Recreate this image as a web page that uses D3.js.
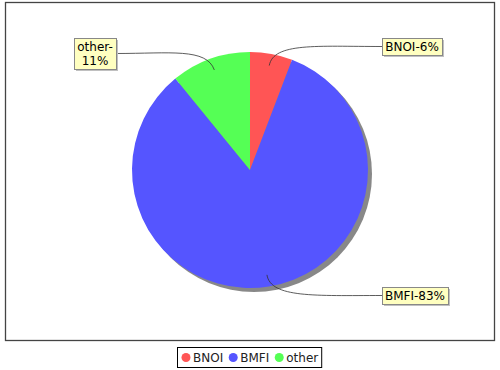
<!DOCTYPE html>
<html>
<head>
<meta charset="utf-8">
<script src="https://cdn.jsdelivr.net/npm/d3@7"></script>
<style>
  body { margin: 0; background: #fff; }
  text { font-family: "DejaVu Sans", sans-serif; font-size: 12px; }
</style>
</head>
<body>
<svg id="chart" width="500" height="370"></svg>
<script>
// data
var categories = ["BNOI", "BMFI", "other"];
var shares = [5.8, 83.3, 10.9];
var colours = ["#ff5555", "#5555ff", "#55ff55"];

var svg = d3.select("#chart");
var cx = 250, cy = 170, radius = 118;

// plot border
svg.append("rect")
    .attr("x", 5.5).attr("y", 2.5)
    .attr("width", 489).attr("height", 338)
    .attr("fill", "white")
    .attr("stroke", "#444").attr("stroke-width", 1.3);

var pie = d3.pie().sort(null).value(function(d) { return d; });
var arcs = pie(shares);
var arc = d3.arc().innerRadius(0).outerRadius(radius);

// shadow
svg.append("circle")
    .attr("cx", cx + 4).attr("cy", cy + 4).attr("r", radius)
    .attr("fill", "#888");

var g = svg.append("g").attr("transform", "translate(" + cx + "," + cy + ")");
g.selectAll("path.slice").data(arcs).enter().append("path")
    .attr("class", "slice")
    .attr("d", arc)
    .attr("fill", function(d, i) { return colours[i]; });

// labels: position of box (top-left) and which side it sits on
var labelBoxes = [
    { x: 382, y: 38, side: "right", lines: 1 },
    { x: 382, y: 287, side: "right", lines: 1 },
    { x: 74, y: 38, side: "left", lines: 2 }
];

var total = d3.sum(shares);
var pct = d3.format(".0%");

arcs.forEach(function(d, i) {
    var box = labelBoxes[i];
    var lines = [categories[i] + "-" + pct(shares[i] / total)];
    if (box.lines > 1) lines = [categories[i] + "-", pct(shares[i] / total)];
    var mid = (d.startAngle + d.endAngle) / 2;
    var ax = cx + Math.sin(mid) * radius * 0.9;
    var ay = cy - Math.cos(mid) * radius * 0.9;
    var c1x = cx + Math.sin(mid) * radius * 1.1;
    var c1y = cy - Math.cos(mid) * radius * 1.1;

    var lg = svg.append("g");
    var t = lg.append("text").attr("x", 0).attr("y", 0);
    lines.forEach(function(s, k) {
        t.append("tspan").attr("x", 0).attr("dy", k == 0 ? 0 : 14).text(s);
    });
    var tw = d3.max(t.selectAll("tspan").nodes(), function(n) { return n.getComputedTextLength(); });
    var w = Math.round(tw) + 6, h = lines.length * 14 + 3;
    var bx = box.x, by = box.y;
    var ly = by + h / 2;
    var lx = box.side == "right" ? bx : bx + w;
    var c2x = lx + (c1x - lx) * 0.6;

    // leader line
    svg.insert("path", function() { return lg.node(); })
        .attr("d", "M" + ax + "," + ay + " C" + c1x + "," + c1y + " " + c2x + "," + ly + " " + lx + "," + ly)
        .attr("fill", "none").attr("stroke", "#333").attr("stroke-width", 0.8);

    lg.insert("rect", "text")
        .attr("x", bx + 2).attr("y", by + 2).attr("width", w).attr("height", h)
        .attr("fill", "#c0c0c0");
    lg.insert("rect", "text")
        .attr("x", bx + 0.5).attr("y", by + 0.5).attr("width", w).attr("height", h)
        .attr("fill", "#ffffc0").attr("stroke", "#888").attr("stroke-width", 1);
    t.attr("transform", "translate(" + (bx + w / 2) + "," + (by + 13) + ")")
        .attr("text-anchor", "middle");
});

// legend
var leg = svg.append("g");
var lx0 = 177, ly0 = 347;
var legRect = leg.append("rect")
    .attr("x", lx0 + 0.5).attr("y", ly0 + 0.5).attr("height", 20)
    .attr("fill", "white").attr("stroke", "#000").attr("stroke-width", 1);
var xpos = lx0 + 4;
categories.forEach(function(c, i) {
    leg.append("circle").attr("cx", xpos + 5).attr("cy", ly0 + 10.5).attr("r", 4.5)
        .attr("fill", colours[i]);
    var tx = leg.append("text").attr("x", xpos + 12).attr("y", ly0 + 15).attr("fill", "#222").text(c);
    xpos += 12 + tx.node().getComputedTextLength() + 5;
});
legRect.attr("width", xpos - lx0 - 2);
</script>
</body>
</html>
